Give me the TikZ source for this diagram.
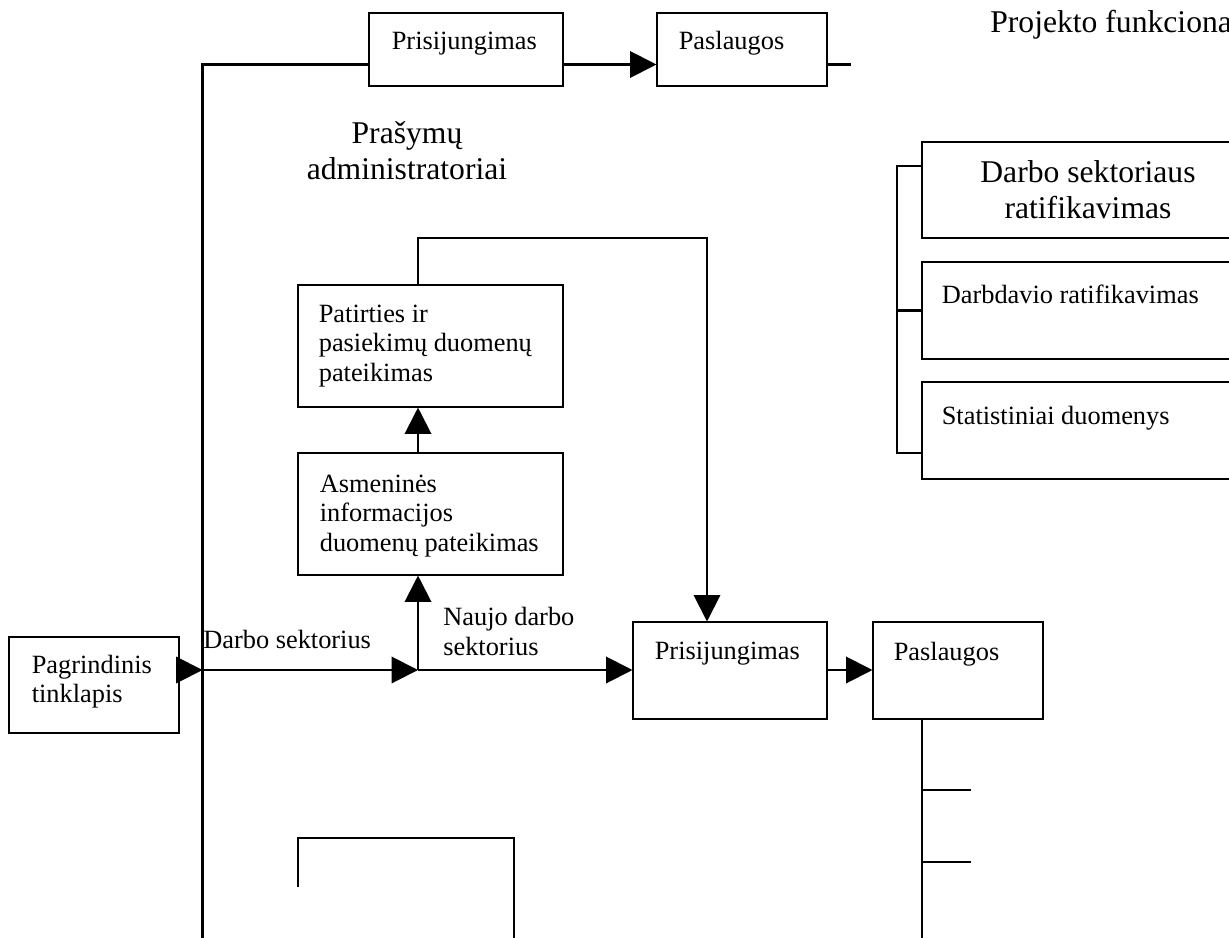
\documentclass[tikz,border=0pt]{standalone}
\usepackage{fontspec}
\setmainfont{Liberation Serif}
\usetikzlibrary{arrows.meta}
\tikzset{
    RA1/.style ={rectangle, draw, line width=0.6pt, inner sep=0pt},
    TX1/.style ={inner sep=0pt, align=left, font=\fontsize{15pt}{16.9pt}\selectfont},
    TX2/.style ={inner sep=0pt, align=center, font=\fontsize{18pt}{20.5pt}\selectfont},
    LN/.style ={line width=1.2pt},
    AR/.style ={line width=1.2pt, -{Triangle[length=15pt,width=15pt]}}}
\begin{document}
\begin{tikzpicture}[x=1cm,y=-1cm]
    \useasboundingbox (0,0) rectangle (24.58,18.76);
    % upper row
    \node[RA1,minimum width=3.88cm,minimum height=1.46cm](1) at (9.32,0.99) {};
    \node[RA1,minimum width=3.40cm,minimum height=1.46cm](2) at (14.84,0.99) {};
    \node[TX1,anchor=north west] at ([shift={(0.46,0.38)}]1.north west) {Prisijungimas};
    \node[TX1,anchor=north west] at ([shift={(0.44,0.36)}]2.north west) {Paslaugos};
    \node[TX2,anchor=north](3) at (8.14,2.43) {Prašymų\\administratoriai};
    \node[TX2,anchor=base west] at (19.80,0.64) {Projekto funkciona};
    % middle column
    \node[RA1,minimum width=3.40cm,minimum height=1.92cm](4) at (1.88,13.70) {};
    \node[RA1,minimum width=5.30cm,minimum height=2.44cm](5) at (8.61,6.92) {};
    \node[RA1,minimum width=5.30cm,minimum height=2.44cm](6) at (8.61,10.28) {};
    \node[RA1,minimum width=3.88cm,minimum height=1.94cm](7) at (14.60,13.41) {};
    \node[RA1,minimum width=3.40cm,minimum height=1.94cm](8) at (19.16,13.41) {};
    \node[TX1,anchor=north west] at ([shift={(0.46,0.36)}]4.north west) {Pagrindinis\\tinklapis};
    \node[TX1,anchor=north west] at ([shift={(0.42,0.40)}]5.north west) {Patirties ir\\pasiekimų duomenų\\pateikimas};
    \node[TX1,anchor=north west] at ([shift={(0.44,0.44)}]6.north west) {Asmeninės\\informacijos\\duomenų pateikimas};
    \node[TX1,anchor=north west] at ([shift={(0.44,0.40)}]7.north west) {Prisijungimas};
    \node[TX1,anchor=north west] at ([shift={(0.42,0.40)}]8.north west) {Paslaugos};
    \node[TX1,anchor=north west] at (4.06,12.59) {Darbo sektorius};
    \node[TX1,anchor=north west] at (8.86,12.14) {Naujo darbo\\sektorius};
    % right column
    \node[RA1,TX2,minimum width=6.64cm,minimum height=1.92cm](9) at (21.76,3.80) {Darbo sektoriaus\\ratifikavimas};
    \node[RA1,minimum width=6.64cm,minimum height=1.94cm](10) at (21.76,6.21) {};
    \node[RA1,minimum width=6.64cm,minimum height=1.94cm](11) at (21.76,8.61) {};
    \node[TX1,anchor=north west] at ([shift={(0.40,0.46)}]10.north west) {Darbdavio ratifikavimas};
    \node[TX1,anchor=north west] at ([shift={(0.40,0.49)}]11.north west) {Statistiniai duomenys};
    % connectors
    \coordinate (c1) at (4.05,1.29);
    \coordinate (j0) at (4.05,13.40);
    \coordinate (j1) at (8.36,13.40);
    \coordinate (j2) at (14.14,4.76);
    \coordinate (b1) at (17.94,3.32);
    \coordinate (b2) at (17.94,6.21);
    \coordinate (b3) at (17.94,9.06);
    \coordinate (p1) at (18.44,15.80);
    \coordinate (p2) at (18.44,17.24);
    \draw[LN] (4.05,18.80) -- (c1) -- (c1 -| 1.west);
    \draw[AR] (c1 -| 1.east) -- (c1 -| 2.west);
    \draw[LN] (c1 -| 2.east) -- ++(0.46,0);
    \draw[AR] (j0 -| 4.east) -- (j0);
    \draw[AR] (j0) -- (j1);
    \draw[AR] (j1) -- (j1 -| 7.west);
    \draw[AR] (j1) -- (j1 |- 6.south);
    \draw[AR] (j1 |- 6.north) -- (j1 |- 5.south);
    \draw[AR] (j1 |- 5.north) |- (j2) -- (j2 |- 7.north);
    \draw[AR] (j1 -| 7.east) -- (j1 -| 8.west);
    \draw[LN] (b1 -| 9.west) -- (b1) -- (b3) -- (b3 -| 11.west);
    \draw[LN] (b2) -- (10.west);
    \draw[LN] (p1 |- 8.south) -- (18.44,18.80);
    \draw[LN] (p1) -- ++(0.98,0);
    \draw[LN] (p2) -- ++(0.98,0);
    % open box below
    \draw[LN] (5.96,17.74) -- (5.96,16.76) -- (10.28,16.76) -- (10.28,18.80);
\end{tikzpicture}
\end{document}
